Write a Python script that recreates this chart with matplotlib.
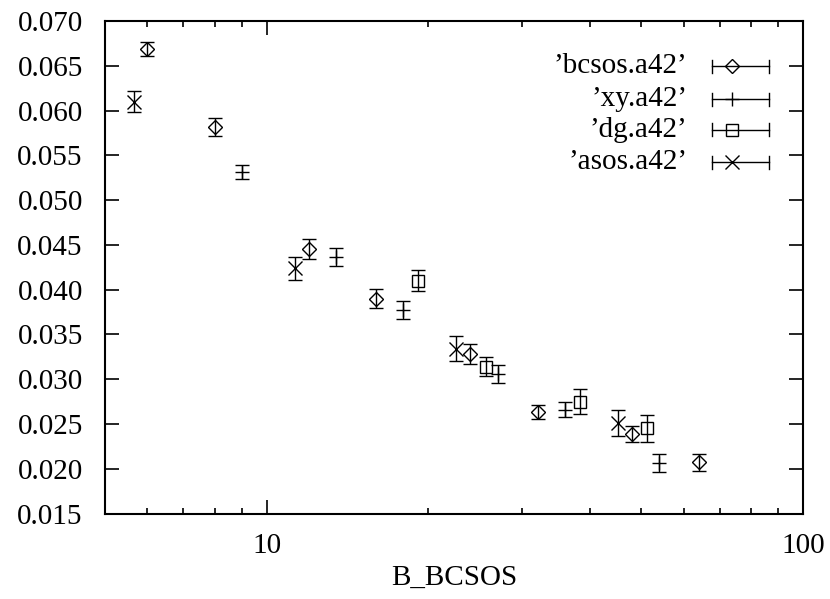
import numpy as np
import matplotlib
matplotlib.use("Agg")
import matplotlib.pyplot as plt
from matplotlib.ticker import FixedLocator, FormatStrFormatter, NullFormatter

# Data
bcsos_x = [6, 8, 12, 16, 24, 32, 48, 64]
bcsos_y = [0.0669, 0.0582, 0.0445, 0.0390, 0.0328, 0.0263, 0.0239, 0.0207]
bcsos_err = [0.0008, 0.0010, 0.0011, 0.0011, 0.0011, 0.0008, 0.0009, 0.0010]

xy_x = [9, 13.5, 18, 27, 36, 54]
xy_y = [0.0531, 0.0436, 0.0377, 0.0306, 0.0266, 0.0206]
xy_err = [0.0008, 0.0010, 0.0010, 0.0010, 0.0008, 0.0010]

dg_x = [19.2, 25.6, 38.4, 51.2]
dg_y = [0.0410, 0.0314, 0.0275, 0.0245]
dg_err = [0.0012, 0.0011, 0.0014, 0.0015]

asos_x = [5.66, 11.3, 22.6, 45.3]
asos_y = [0.0610, 0.0424, 0.0334, 0.0251]
asos_err = [0.0012, 0.0013, 0.0014, 0.0015]

labels = ["\u2019bcsos.a42\u2019", "\u2019xy.a42\u2019", "\u2019dg.a42\u2019", "\u2019asos.a42\u2019"]

plt.rcParams['font.family'] = ['Liberation Serif', 'DejaVu Serif']
plt.rcParams['font.size'] = 21

fig = plt.figure(figsize=(8.3, 5.99), dpi=100)
ax = fig.add_axes([105 / 830, 1 - 513.5 / 599, 698 / 830, 492.5 / 599])

# Series: (x, y, err, marker, size)
series = [
    (bcsos_x, bcsos_y, bcsos_err, 'D', 7.5),
    (xy_x, xy_y, xy_err, '+', 10),
    (dg_x, dg_y, dg_err, 's', 9),
    (asos_x, asos_y, asos_err, 'x', 10),
]

for x, y, e, m, ms in series:
    ax.errorbar(x, y, yerr=e, fmt=m, ms=ms, mfc='none', mec='black', mew=1.0,
                ecolor='black', elinewidth=1.0, capsize=5, capthick=1.0)

ax.set_xscale('log')
ax.set_xlim(5, 100)
ax.set_ylim(0.015, 0.070)
ax.set_xlabel('B_BCSOS', labelpad=4)

ax.xaxis.set_major_locator(FixedLocator([10, 100]))
ax.xaxis.set_minor_locator(FixedLocator([6, 7, 8, 9, 20, 30, 40, 50, 60, 70, 80, 90]))
ax.xaxis.set_major_formatter(FormatStrFormatter('%d'))
ax.xaxis.set_minor_formatter(NullFormatter())
ax.set_yticks(np.arange(0.015, 0.0701, 0.005))
ax.yaxis.set_major_formatter(FormatStrFormatter('%.3f'))

ax.tick_params(which='both', direction='in', top=True, right=True, width=1.2, color='black')
ax.tick_params(which='major', length=10)
ax.tick_params(which='minor', length=4.5)
ax.tick_params(axis='y', which='major', pad=16)
ax.tick_params(axis='x', which='major', pad=14)
for s in ax.spines.values():
    s.set_linewidth(1.5)

# Key drawn gnuplot-style: right-aligned text, horizontal error bar sample
key_y = [0.9086, 0.8416, 0.7787, 0.7137]
for (x, y, e, m, ms), lab, ky in zip(series, labels, key_y):
    ax.text(0.834, ky, lab, transform=ax.transAxes, ha='right', va='center')
    ax.plot([0.8696, 0.9513], [ky, ky], color='black', lw=1.0, transform=ax.transAxes, clip_on=False)
    for cx in (0.8696, 0.9513):
        ax.plot([cx, cx], [ky - 0.0132, ky + 0.0132], color='black', lw=1.0,
                transform=ax.transAxes, clip_on=False)
    ax.plot([0.898], [ky], marker=m, ms=ms, mfc='none', mec='black', mew=1.0,
            transform=ax.transAxes, clip_on=False)

fig.savefig('out.png', dpi=100)
